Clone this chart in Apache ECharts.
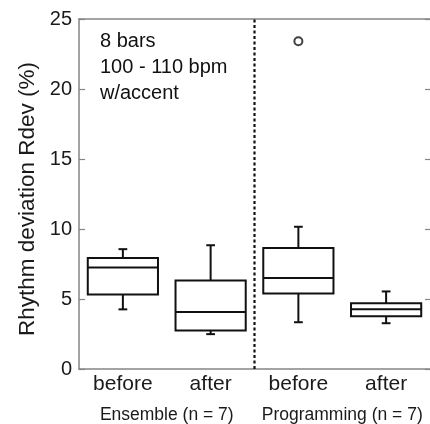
<!DOCTYPE html>
<html>
<head>
<meta charset="utf-8">
<script src="https://cdn.jsdelivr.net/npm/echarts@6/dist/echarts.min.js"></script>
<style>html,body{margin:0;padding:0;background:#fff;}#c{width:430px;height:424px;}</style>
</head>
<body>
<div id="c"></div>
<script>
const categories = ['before', 'after', 'before', 'after'];
const groups = ['Ensemble (n = 7)', 'Programming (n = 7)'];
const whiskerLow = [4.26, 2.49, 3.34, 3.27];
const q1 = [5.33, 2.75, 5.40, 3.77];
const median = [7.25, 4.08, 6.50, 4.26];
const q3 = [7.92, 6.33, 8.65, 4.69];
const whiskerHigh = [8.56, 8.84, 10.16, 5.54];
const outliers = [[2, 23.41]];
const yMin = 0, yMax = 25, yStep = 5;
const dividerAt = 2;
const annotation = ['8 bars', '100 - 110 bpm', 'w/accent'];

const FONT = '"Liberation Sans", Arial, sans-serif';
const frame = '#858585';
const ink = '#111';

const boxData = categories.map((c, i) => [i, whiskerLow[i], q1[i], median[i], q3[i], whiskerHigh[i]]);

const chart = echarts.init(document.getElementById('c'));
chart.setOption({
  animation: false,
  backgroundColor: '#fff',
  textStyle: { fontFamily: FONT },
  grid: { left: 79, right: 0, top: 19, bottom: 53 },
  xAxis: [
    {
      type: 'category', data: categories, position: 'bottom',
      axisLine: { onZero: false, lineStyle: { color: frame, width: 1.5 } },
      axisTick: { inside: true, length: 5, lineStyle: { color: frame, width: 1.2 } },
      axisLabel: { color: '#1a1a1a', fontSize: 21, margin: 5, fontFamily: FONT, interval: 0 }
    },
    {
      type: 'category', data: categories, position: 'top',
      axisLine: { onZero: false, lineStyle: { color: frame, width: 1.5 } },
      axisTick: { inside: true, length: 5, lineStyle: { color: frame, width: 1.2 } },
      axisLabel: { show: false }
    },
    {
      type: 'category', data: groups, position: 'bottom', offset: 30,
      axisLine: { show: false, onZero: false }, axisTick: { show: false },
      axisLabel: { color: '#1a1a1a', fontSize: 17.5, margin: 7, fontFamily: FONT, interval: 0 }
    },
    {
      type: 'value', min: 0, max: categories.length, show: false,
      axisLine: { onZero: false }
    }
  ],
  yAxis: [
    {
      type: 'value', min: yMin, max: yMax, interval: yStep, position: 'left',
      name: 'Rhythm deviation Rdev (%)', nameLocation: 'middle', nameGap: 40,
      nameTextStyle: { fontSize: 22.5, color: '#1a1a1a', fontFamily: FONT, padding: [0, 10, 0, 0] },
      axisLine: { show: true, onZero: false, lineStyle: { color: frame, width: 1.5 } },
      axisTick: { show: true, inside: true, length: 6, lineStyle: { color: frame, width: 1.2 } },
      axisLabel: { color: '#1a1a1a', fontSize: 20, margin: 7, fontFamily: FONT },
      splitLine: { show: false }
    },
    {
      type: 'value', min: yMin, max: yMax, interval: yStep, position: 'right',
      axisLine: { show: false, onZero: false },
      axisTick: { show: true, inside: true, length: 5, lineStyle: { color: frame, width: 1.2 } },
      axisLabel: { show: false },
      splitLine: { show: false }
    }
  ],
  graphic: [
    {
      type: 'text', left: 100, top: 28, z: 10,
      style: { text: annotation.join('\n'), font: '20px ' + FONT, fill: '#111', lineHeight: 26 }
    }
  ],
  series: [
    {
      type: 'custom', xAxisIndex: 0, yAxisIndex: 0,
      data: boxData,
      encode: { x: 0, y: [1, 2, 3, 4, 5] },
      renderItem: function (params, api) {
        const i = api.value(0);
        const bw = api.size([1, 0])[0] * 0.8;
        const cw = api.size([1, 0])[0] * 0.1;
        const pLow = api.coord([i, api.value(1)]);
        const pQ1 = api.coord([i, api.value(2)]);
        const pMed = api.coord([i, api.value(3)]);
        const pQ3 = api.coord([i, api.value(4)]);
        const pHigh = api.coord([i, api.value(5)]);
        const x = pMed[0];
        const st = { stroke: ink, lineWidth: 2, fill: 'none' };
        return {
          type: 'group',
          children: [
            { type: 'line', shape: { x1: x, y1: pQ3[1], x2: x, y2: pHigh[1] }, style: st },
            { type: 'line', shape: { x1: x, y1: pQ1[1], x2: x, y2: pLow[1] }, style: st },
            { type: 'line', shape: { x1: x - cw / 2, y1: pHigh[1], x2: x + cw / 2, y2: pHigh[1] }, style: st },
            { type: 'line', shape: { x1: x - cw / 2, y1: pLow[1], x2: x + cw / 2, y2: pLow[1] }, style: st },
            { type: 'rect', shape: { x: x - bw / 2, y: pQ3[1], width: bw, height: pQ1[1] - pQ3[1] }, style: { stroke: ink, lineWidth: 2, fill: '#fff' } },
            { type: 'line', shape: { x1: x - bw / 2, y1: pMed[1], x2: x + bw / 2, y2: pMed[1] }, style: st }
          ]
        };
      }
    },
    {
      type: 'scatter', xAxisIndex: 0, yAxisIndex: 0,
      data: outliers,
      symbol: 'circle', symbolSize: 8,
      itemStyle: { color: '#fff', borderColor: ink, borderWidth: 2 }
    },
    {
      type: 'custom', xAxisIndex: 3, yAxisIndex: 0, z: 5,
      data: [[dividerAt, yMin, yMax]],
      encode: { x: 0, y: [1, 2] },
      renderItem: function (params, api) {
        const a = api.coord([api.value(0), api.value(1)]);
        const b = api.coord([api.value(0), api.value(2)]);
        return {
          type: 'line',
          shape: { x1: a[0], y1: a[1], x2: b[0], y2: b[1] },
          style: { stroke: ink, lineWidth: 2.2, lineDash: [3, 2.5], lineCap: 'butt' }
        };
      }
    }
  ]
});
</script>
</body>
</html>
